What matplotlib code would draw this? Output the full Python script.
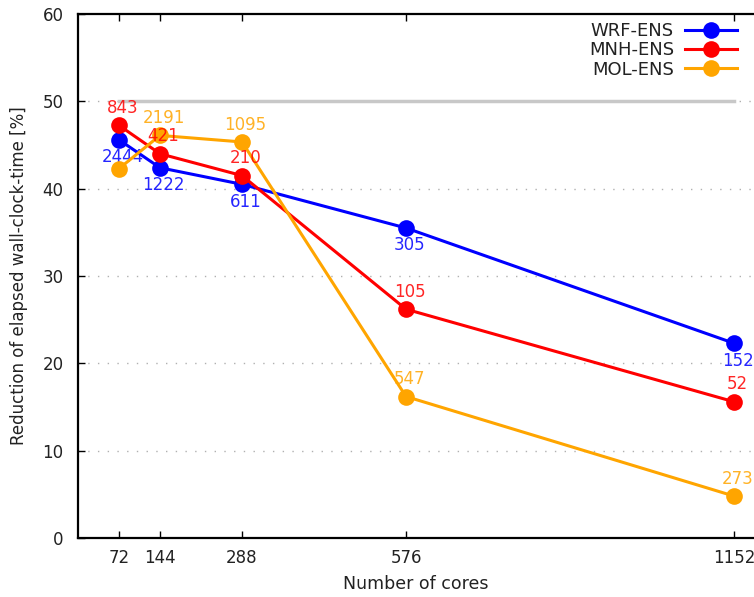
import matplotlib
matplotlib.use("Agg")
import matplotlib.pyplot as plt

# data
cores = [72, 144, 288, 576, 1152]
tick_labels = ["72", "144", "288", "576", "1152"]

wrf = [45.6, 42.4, 40.5, 35.5, 22.3]
mnh = [47.25, 44.0, 41.5, 26.2, 15.6]
mol = [42.3, 46.1, 45.35, 16.2, 4.8]

wrf_labels = ["2444", "1222", "611", "305", "152"]
mnh_labels = ["843", "421", "210", "105", "52"]
mol_labels = ["", "2191", "1095", "547", "273"]

ref_level = 50
grid_levels = [10, 20, 30, 40, 50]

plt.rcParams["font.family"] = ["DejaVu Sans"]
TXT = "#222222"

fig = plt.figure(figsize=(7.54, 5.97), dpi=100)
ax = fig.add_axes([0.1034, 0.0988, 0.8966, 0.8777])

ax.set_xlim(0, 1187)
ax.set_ylim(0, 60)

# dotted grid and reference line
for g in grid_levels:
    ax.axhline(g, color="#b0b0b0", lw=1.0, ls=(0, (1, 6)), zorder=1)
ax.plot([cores[0], cores[-1]], [ref_level, ref_level], color="#c8c8c8", lw=2.5, zorder=1.5)

series = [
    ("WRF-ENS", wrf, wrf_labels, "#0000ff", -1, 2),
    ("MNH-ENS", mnh, mnh_labels, "#ff0000", 1, 3),
    ("MOL-ENS", mol, mol_labels, "#ffa500", 1, 4),
]

for name, vals, labs, col, side, z in series:
    ax.plot(cores, vals, color=col, lw=2.2, marker="o", markersize=12,
            markeredgewidth=0, label=name, zorder=z)

# point labels (blue under orange line, red on top)
label_z = {"WRF-ENS": 3.5, "MNH-ENS": 5, "MOL-ENS": 5}
for name, vals, labs, col, side, z in series:
    for x, y, t in zip(cores, vals, labs):
        if not t:
            continue
        ax.annotate(t, (x, y), xytext=(2.5, 12.5 * side), textcoords="offset points",
                    ha="center", va="center", color=col, fontsize=12,
                    zorder=label_z[name], alpha=0.85)

ax.set_xticks(cores)
ax.set_xticklabels(tick_labels)
ax.set_yticks(range(0, 61, 10))
ax.tick_params(axis="x", direction="in", length=5, width=1, top=True, pad=8,
               labelsize=12, labelcolor=TXT)
ax.tick_params(axis="y", direction="in", length=5, width=1, pad=10.5,
               labelsize=12, labelcolor=TXT)

for s in ["left", "bottom", "top"]:
    ax.spines[s].set_linewidth(1.6)
ax.spines["right"].set_visible(False)

ax.set_xlabel("Number of cores", fontsize=12.5, color=TXT, labelpad=6)
ax.set_ylabel("Reduction of elapsed wall-clock-time [%]", fontsize=12, color=TXT, labelpad=10)

leg = ax.legend(loc="upper right", bbox_to_anchor=(0.975, 0.985), frameon=False,
                markerfirst=False, handlelength=2.9, handletextpad=0.6,
                labelspacing=0.08, borderpad=0, borderaxespad=0, fontsize=13)
for t in leg.get_texts():
    t.set_color(TXT)

fig.savefig("out.png", dpi=100)
